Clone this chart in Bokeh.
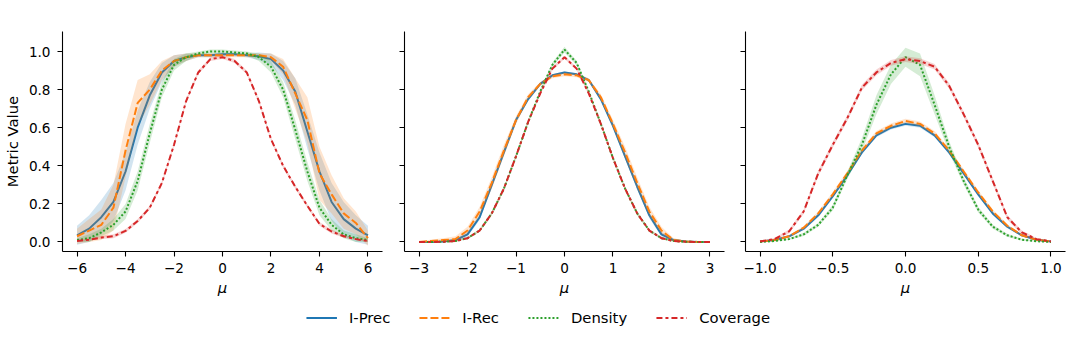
from bokeh.plotting import figure
from bokeh.models import Range1d, FixedTicker, Label, Legend, LegendItem
from bokeh.layouts import column, row
from bokeh.embed import file_html
from bokeh.resources import INLINE

FONT = "DejaVu Sans"

series = ["I-Prec", "I-Rec", "Density", "Coverage"]
colors = ["#1f77b4", "#ff7f0e", "#2ca02c", "#d62728"]
dashes = ["solid", "8 3", "2 2", "6 3 3 3"]

y_ticks = [0.0, 0.2, 0.4, 0.6, 0.8, 1.0]
y_tick_labels = ["0.0", "0.2", "0.4", "0.6", "0.8", "1.0"]

# ---------------- panel d = 1 ----------------
mu_d1 = [-6.0, -5.5, -5.0, -4.5, -4.0, -3.5, -3.0, -2.5, -2.0, -1.5, -1.0, -0.5, 0.0,
         0.5, 1.0, 1.5, 2.0, 2.5, 3.0, 3.5, 4.0, 4.5, 5.0, 5.5, 6.0]
iprec_d1 = [0.035, 0.07, 0.13, 0.21, 0.37, 0.60, 0.77, 0.89, 0.95, 0.97, 0.98, 0.98, 0.985,
            0.985, 0.98, 0.975, 0.96, 0.90, 0.79, 0.58, 0.37, 0.21, 0.12, 0.07, 0.035]
iprec_d1_err = [0.05, 0.07, 0.09, 0.10, 0.10, 0.09, 0.07, 0.05, 0.03, 0.02, 0.01, 0.01, 0.01,
                0.01, 0.01, 0.02, 0.03, 0.05, 0.07, 0.09, 0.10, 0.10, 0.09, 0.07, 0.05]
irec_d1 = [0.03, 0.06, 0.09, 0.18, 0.48, 0.73, 0.80, 0.90, 0.95, 0.97, 0.98, 0.98, 0.98,
           0.98, 0.98, 0.98, 0.97, 0.92, 0.78, 0.64, 0.36, 0.25, 0.15, 0.10, 0.02]
irec_d1_err = [0.04, 0.06, 0.08, 0.12, 0.14, 0.12, 0.08, 0.05, 0.03, 0.02, 0.01, 0.01, 0.01,
               0.01, 0.01, 0.01, 0.02, 0.04, 0.08, 0.12, 0.14, 0.10, 0.08, 0.06, 0.04]
dens_d1 = [0.01, 0.02, 0.05, 0.09, 0.16, 0.32, 0.57, 0.80, 0.93, 0.97, 0.99, 1.0, 1.0,
           0.995, 0.99, 0.97, 0.92, 0.80, 0.59, 0.37, 0.18, 0.09, 0.04, 0.02, 0.01]
dens_d1_err = [0.01, 0.02, 0.02, 0.03, 0.04, 0.05, 0.05, 0.04, 0.03, 0.02, 0.01, 0.01, 0.01,
               0.01, 0.01, 0.02, 0.03, 0.04, 0.05, 0.05, 0.04, 0.03, 0.02, 0.02, 0.01]
cov_d1 = [0.005, 0.012, 0.023, 0.03, 0.058, 0.11, 0.18, 0.31, 0.51, 0.74, 0.89, 0.96, 0.97,
          0.95, 0.89, 0.74, 0.54, 0.40, 0.29, 0.19, 0.095, 0.055, 0.03, 0.015, 0.005]
cov_d1_err = [0.005, 0.005, 0.008, 0.01, 0.01, 0.01, 0.01, 0.01, 0.01, 0.01, 0.01, 0.01, 0.01,
              0.01, 0.01, 0.01, 0.01, 0.01, 0.01, 0.01, 0.01, 0.01, 0.008, 0.005, 0.005]

# ---------------- panel d = 8 ----------------
mu_d8 = [-3.0, -2.75, -2.5, -2.25, -2.0, -1.75, -1.5, -1.25, -1.0, -0.75, -0.5, -0.25, 0.0,
         0.25, 0.5, 0.75, 1.0, 1.25, 1.5, 1.75, 2.0, 2.25, 2.5, 2.75, 3.0]
iprec_d8 = [0.0, 0.0, 0.002, 0.01, 0.04, 0.13, 0.30, 0.47, 0.64, 0.75, 0.83, 0.875, 0.89,
            0.88, 0.85, 0.75, 0.61, 0.45, 0.29, 0.14, 0.04, 0.01, 0.002, 0.0, 0.0]
iprec_d8_err = [0.0, 0.002, 0.004, 0.008, 0.012, 0.015, 0.015, 0.015, 0.012, 0.01, 0.008, 0.006, 0.006,
                0.006, 0.008, 0.01, 0.012, 0.015, 0.015, 0.015, 0.012, 0.008, 0.004, 0.002, 0.0]
irec_d8 = [0.0, 0.005, 0.01, 0.015, 0.06, 0.16, 0.31, 0.48, 0.64, 0.76, 0.83, 0.87, 0.88,
           0.875, 0.85, 0.76, 0.62, 0.47, 0.31, 0.16, 0.06, 0.01, 0.003, 0.0, 0.0]
irec_d8_err = [0.0, 0.008, 0.01, 0.015, 0.02, 0.025, 0.03, 0.03, 0.02, 0.015, 0.01, 0.01, 0.01,
               0.01, 0.01, 0.015, 0.02, 0.03, 0.03, 0.025, 0.02, 0.01, 0.005, 0.0, 0.0]
dens_d8 = [0.0, 0.0, 0.001, 0.005, 0.02, 0.06, 0.15, 0.28, 0.45, 0.63, 0.79, 0.93, 1.01,
           0.94, 0.79, 0.62, 0.44, 0.28, 0.15, 0.06, 0.02, 0.005, 0.001, 0.0, 0.0]
dens_d8_err = [0.0, 0.0, 0.002, 0.004, 0.006, 0.008, 0.01, 0.01, 0.01, 0.01, 0.01, 0.012, 0.015,
               0.012, 0.01, 0.01, 0.01, 0.01, 0.01, 0.008, 0.006, 0.004, 0.002, 0.0, 0.0]
cov_d8 = [0.0, 0.0, 0.001, 0.005, 0.02, 0.06, 0.15, 0.28, 0.45, 0.63, 0.78, 0.91, 0.97,
          0.91, 0.78, 0.62, 0.44, 0.28, 0.15, 0.06, 0.02, 0.005, 0.001, 0.0, 0.0]
cov_d8_err = [0.0, 0.0, 0.002, 0.003, 0.005, 0.006, 0.008, 0.008, 0.008, 0.008, 0.008, 0.008, 0.008,
              0.008, 0.008, 0.008, 0.008, 0.008, 0.008, 0.006, 0.005, 0.003, 0.002, 0.0, 0.0]

# ---------------- panel d = 64 ----------------
mu_d64 = [-1.0, -0.9, -0.8, -0.7, -0.6, -0.5, -0.4, -0.3, -0.2, -0.1, 0.0,
          0.1, 0.2, 0.3, 0.4, 0.5, 0.6, 0.7, 0.8, 0.9, 1.0]
iprec_d64 = [0.003, 0.01, 0.03, 0.07, 0.14, 0.24, 0.35, 0.47, 0.56, 0.60, 0.62,
             0.61, 0.56, 0.47, 0.36, 0.25, 0.15, 0.08, 0.035, 0.012, 0.003]
iprec_d64_err = [0.002, 0.004, 0.006, 0.008, 0.01, 0.01, 0.01, 0.01, 0.01, 0.01, 0.01,
                 0.01, 0.01, 0.01, 0.01, 0.01, 0.01, 0.008, 0.006, 0.004, 0.002]
irec_d64 = [0.003, 0.01, 0.03, 0.075, 0.15, 0.25, 0.36, 0.48, 0.57, 0.61, 0.635,
            0.62, 0.57, 0.48, 0.37, 0.26, 0.16, 0.085, 0.035, 0.012, 0.003]
irec_d64_err = [0.002, 0.004, 0.006, 0.008, 0.01, 0.012, 0.012, 0.012, 0.012, 0.012, 0.012,
                0.012, 0.012, 0.012, 0.012, 0.012, 0.01, 0.008, 0.006, 0.004, 0.002]
dens_d64 = [0.0, 0.005, 0.015, 0.04, 0.09, 0.18, 0.35, 0.51, 0.72, 0.88, 0.97,
            0.93, 0.72, 0.50, 0.32, 0.17, 0.08, 0.035, 0.012, 0.004, 0.0]
dens_d64_err = [0.0, 0.003, 0.005, 0.008, 0.01, 0.015, 0.02, 0.035, 0.05, 0.05, 0.05,
                0.06, 0.05, 0.03, 0.02, 0.015, 0.01, 0.008, 0.005, 0.003, 0.0]
cov_d64 = [0.003, 0.015, 0.056, 0.16, 0.36, 0.51, 0.65, 0.81, 0.89, 0.94, 0.96,
           0.95, 0.92, 0.82, 0.67, 0.51, 0.32, 0.13, 0.05, 0.015, 0.003]
cov_d64_err = [0.003, 0.006, 0.01, 0.012, 0.015, 0.015, 0.015, 0.015, 0.015, 0.015, 0.015,
               0.015, 0.015, 0.015, 0.015, 0.015, 0.015, 0.012, 0.01, 0.006, 0.003]

x_ticks_d1 = [-6, -4, -2, 0, 2, 4, 6]
x_labels_d1 = ["\u22126", "\u22124", "\u22122", "0", "2", "4", "6"]
x_ticks_d8 = [-3, -2, -1, 0, 1, 2, 3]
x_labels_d8 = ["\u22123", "\u22122", "\u22121", "0", "1", "2", "3"]
x_ticks_d64 = [-1.0, -0.5, 0.0, 0.5, 1.0]
x_labels_d64 = ["\u22121.0", "\u22120.5", "0.0", "0.5", "1.0"]

panel_titles = ["1", "8", "64"]

Y0, Y1 = -0.05, 1.105
FRAME_W, FRAME_H = 320, 220
TICK_FS = "13.6px"
LABEL_FS = "14.8px"


def style_axis(ax):
    ax.axis_line_color = "black"
    ax.axis_line_width = 1.1
    ax.major_tick_line_color = "black"
    ax.major_tick_line_width = 1.1
    ax.major_tick_out = 5
    ax.major_tick_in = 0
    ax.minor_tick_out = 0
    ax.minor_tick_in = 0
    ax.major_label_text_font = FONT
    ax.major_label_text_font_size = TICK_FS
    ax.major_label_text_color = "black"
    ax.axis_label_text_font = FONT
    ax.axis_label_text_font_size = LABEL_FS
    ax.axis_label_text_color = "black"


def make_panel(mu, vals, errs, half, xticks, xlabels, title_num, first, bl, br):
    p = figure(frame_width=FRAME_W, frame_height=FRAME_H,
               min_border_left=bl, min_border_right=br,
               min_border_top=31, min_border_bottom=52,
               x_range=Range1d(-half * 1.1, half * 1.1), y_range=Range1d(Y0, Y1),
               output_backend="svg", toolbar_location=None)
    p.outline_line_color = None
    p.grid.visible = False
    p.background_fill_color = "white"
    p.border_fill_color = "white"

    for v, e, c, d in zip(vals, errs, colors, dashes):
        lo = [a - b for a, b in zip(v, e)]
        hi = [a + b for a, b in zip(v, e)]
        p.varea(x=mu, y1=lo, y2=hi, fill_color=c, fill_alpha=0.2)
        p.line(x=mu, y=v, line_color=c, line_width=2, line_dash=d)

    xa = p.xaxis[0]
    style_axis(xa)
    xa.ticker = FixedTicker(ticks=xticks)
    xa.major_label_overrides = {t: l for t, l in zip(xticks, xlabels)}
    xa.major_label_standoff = 6
    xa.axis_label = "\u03bc"
    xa.axis_label_text_font_style = "italic"
    xa.axis_label_standoff = 3

    ya = p.yaxis[0]
    style_axis(ya)
    ya.ticker = FixedTicker(ticks=y_ticks)
    if first:
        ya.major_label_overrides = {t: l for t, l in zip(y_ticks, y_tick_labels)}
        ya.major_label_standoff = 7
        ya.axis_label = "Metric Value"
        ya.axis_label_text_font_style = "normal"
        ya.axis_label_standoff = 5
    else:
        ya.major_label_overrides = {t: "" for t in y_ticks}
        ya.major_label_standoff = 0

    px_per_unit = FRAME_H / (Y1 - Y0)
    ty = Y1 + 9.3 / px_per_unit
    shift = -4.0 if len(title_num) > 1 else 0.0
    p.add_layout(Label(x=0, y=ty, x_offset=-8.5 + shift, text="d", text_align="right",
                       text_baseline="alphabetic", text_font=FONT, text_font_size=LABEL_FS,
                       text_font_style="italic", text_color="black"))
    p.add_layout(Label(x=0, y=ty, x_offset=-6.0 + shift, text="= " + title_num, text_align="left",
                       text_baseline="alphabetic", text_font=FONT, text_font_size=LABEL_FS,
                       text_font_style="normal", text_color="black"))
    return p


p1 = make_panel(mu_d1, [iprec_d1, irec_d1, dens_d1, cov_d1],
                [iprec_d1_err, irec_d1_err, dens_d1_err, cov_d1_err],
                6.0, x_ticks_d1, x_labels_d1, panel_titles[0], True, 62, 10)
p2 = make_panel(mu_d8, [iprec_d8, irec_d8, dens_d8, cov_d8],
                [iprec_d8_err, irec_d8_err, dens_d8_err, cov_d8_err],
                3.0, x_ticks_d8, x_labels_d8, panel_titles[1], False, 12, 9)
p3 = make_panel(mu_d64, [iprec_d64, irec_d64, dens_d64, cov_d64],
                [iprec_d64_err, irec_d64_err, dens_d64_err, cov_d64_err],
                1.0, x_ticks_d64, x_labels_d64, panel_titles[2], False, 12, 3)

# legend strip
pl = figure(width=1068, height=28, min_border=0, min_border_left=8,
            output_backend="svg", toolbar_location=None,
            x_range=Range1d(0, 1), y_range=Range1d(0, 1))
pl.outline_line_color = None
pl.grid.visible = False
pl.axis.visible = False
items = []
for s, c, d in zip(series, colors, dashes):
    r = pl.line(x=[-10, -9], y=[-10, -10], line_color=c, line_width=2, line_dash=d)
    items.append(LegendItem(label=s, renderers=[r]))
leg = Legend(items=items, orientation="horizontal", location="center",
             glyph_width=31, glyph_height=16, label_standoff=12, spacing=29,
             padding=0, margin=0, border_line_color=None, background_fill_alpha=0,
             label_text_font=FONT, label_text_font_size=LABEL_FS, label_text_color="black")
pl.add_layout(leg, "center")

layout = column(row(p1, p2, p3), pl)
open("out.html", "w").write(file_html(layout, INLINE))
